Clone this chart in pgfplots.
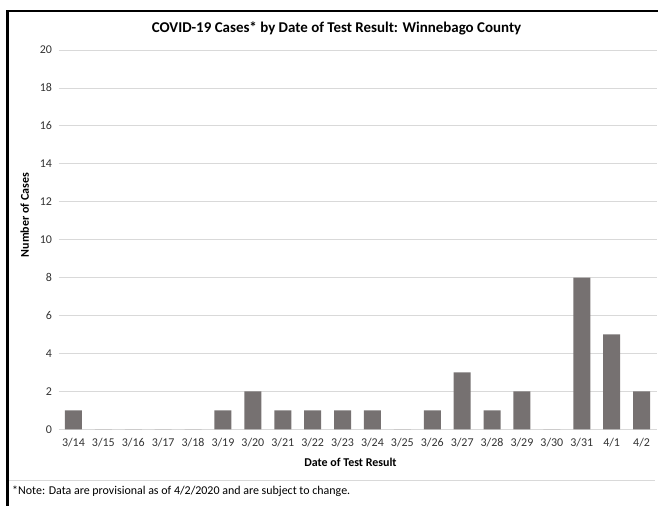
\documentclass[border=0pt]{standalone}
\usepackage{pgfplots}
\pgfplotsset{compat=1.18}
\usepackage{fontspec}
\setmainfont{Carlito}
\definecolor{barfill}{HTML}{767171}
\definecolor{gridc}{HTML}{D9D9D9}
\begin{document}
\begin{tikzpicture}[x=1bp,y=1bp]
\useasboundingbox (0,0) rectangle (658,506);
% frame
\draw[line width=2.8bp] (7.5,0) -- (7.5,495) -- (658,495);
\draw[gridc,line width=1bp] (9,25) -- (655,25);
\node[anchor=west,font=\fontsize{12}{14}\selectfont,inner sep=0] at (12,15) {*Note: Data are provisional as of 4/2/2020 and are subject to change.};
\begin{axis}[
  at={(58.5bp,76.7bp)}, anchor=south west,
  scale only axis,
  width=598bp, height=379.3bp,
  ybar, bar width=17bp,
  xmin=-0.5, xmax=19.5,
  ymin=0, ymax=20,
  ytick={0,2,...,20},
  xtick=data,
  xticklabels={3/14,3/15,3/16,3/17,3/18,3/19,3/20,3/21,3/22,3/23,3/24,3/25,3/26,3/27,3/28,3/29,3/30,3/31,4/1,4/2},
  axis line style={draw=none},
  tick style={draw=none},
  ymajorgrids, grid style={gridc, line width=0.8bp},
  tick label style={font=\fontsize{12}{14}\selectfont, text=black!80},
  /pgf/number format/assume math mode=true,
  yticklabel style={xshift=-3bp},
  xticklabel style={yshift=-1bp},
  xlabel={\textbf{Date of Test Result}},
  xlabel style={font=\fontsize{12}{14}\selectfont, yshift=-4bp, xshift=-7bp},
  ylabel={\textbf{Number of Cases}},
  ylabel style={font=\fontsize{12}{14}\selectfont, at={(ticklabel cs:0.565)}, yshift=4bp},
  title={\textbf{COVID-19 Cases* by Date of Test Result: Winnebago County}},
  title style={font=\fontsize{15}{17}\selectfont, yshift=5bp, xshift=-21bp},
]
\addplot[fill=barfill, draw=none] coordinates {
(0,1) (1,0) (2,0) (3,0) (4,0) (5,1) (6,2) (7,1) (8,1) (9,1)
(10,1) (11,0) (12,1) (13,3) (14,1) (15,2) (16,0) (17,8) (18,5) (19,2)
};
\end{axis}
\end{tikzpicture}
\end{document}
